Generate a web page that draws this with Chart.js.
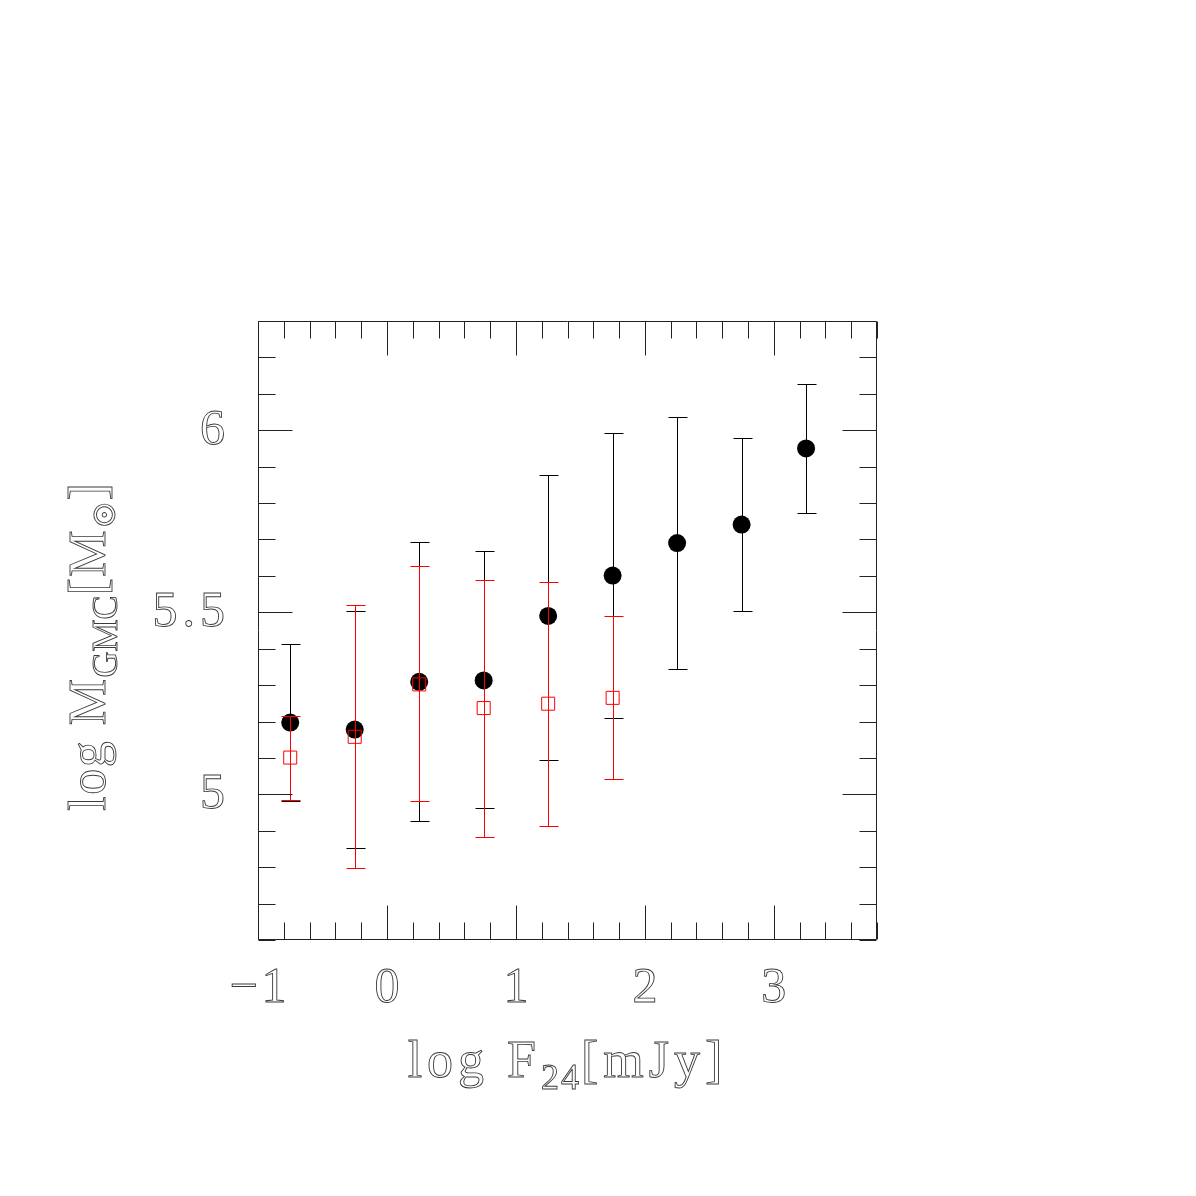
<!DOCTYPE html>
<html lang="en">
<head>
<meta charset="UTF-8">
<title>GMC mass vs 24 micron flux</title>
<script src="https://cdn.jsdelivr.net/npm/chart.js"></script>
<style>
    body { margin: 0; background: #fff; }
    #wrap { width: 1196px; height: 1196px; }
</style>
</head>
<body>
<div id="wrap"><canvas id="myChart" width="1196" height="1196"></canvas></div>
<script>
// bins in log F24 and mean log M_GMC with error ranges
const binCenters = [-0.75, -0.25, 0.25, 0.75, 1.25, 1.75, 2.25, 2.75, 3.25];
const allMass = [5.197, 5.178, 5.309, 5.313, 5.490, 5.601, 5.690, 5.741, 5.950];
const allLow  = [4.982, 4.854, 4.927, 4.962, 5.095, 5.210, 5.343, 5.503, 5.773];
const allHigh = [5.414, 5.503, 5.694, 5.667, 5.878, 5.992, 6.037, 5.978, 6.128];

const subCenters = [-0.75, -0.25, 0.25, 0.75, 1.25, 1.75];
const subMass = [5.101, 5.158, 5.302, 5.237, 5.249, 5.265];
const subLow  = [4.984, 4.798, 4.981, 4.882, 4.914, 5.041];
const subHigh = [5.216, 5.519, 5.626, 5.590, 5.582, 5.490];

const xTicks = [-1, 0, 1, 2, 3];
const xTickLabels = ['\u22121', '0', '1', '2', '3'];
const yTicks = [5, 5.5, 6];
const yTickLabels = ['5', '5.5', '6'];

const FONT = '"Liberation Serif", "DejaVu Serif", serif';
const TEXT_COLOR = '#3a3a3a';

function drawParts(ctx, parts, x, y) {
    let total = 0;
    parts.forEach(p => {
        ctx.font = p.size + 'px ' + FONT;
        ctx.letterSpacing = (p.ls || 0) + 'px';
        p.w = ctx.measureText(p.t).width;
        total += p.w;
    });
    let cx = x - total / 2;
    parts.forEach(p => {
        ctx.font = p.size + 'px ' + FONT;
        ctx.letterSpacing = (p.ls || 0) + 'px';
        ctx.strokeText(p.t, cx, y + (p.dy || 0));
        cx += p.w;
    });
    ctx.letterSpacing = '0px';
}

function drawErrorBars(chart, xv, lo, hi, color) {
    const ctx = chart.ctx;
    const xs = chart.scales.x, ys = chart.scales.y;
    ctx.save();
    ctx.strokeStyle = color;
    ctx.lineWidth = 1;
    ctx.beginPath();
    xv.forEach((v, i) => {
        const px = Math.round(xs.getPixelForValue(v)) + 0.5;
        const top = Math.round(ys.getPixelForValue(hi[i])) + 0.5;
        const bot = Math.round(ys.getPixelForValue(lo[i])) + 0.5;
        ctx.moveTo(px, top); ctx.lineTo(px, bot);
        ctx.moveTo(px - 9, top); ctx.lineTo(px + 10, top);
        ctx.moveTo(px - 9, bot); ctx.lineTo(px + 10, bot);
    });
    ctx.stroke();
    ctx.restore();
}

const errorBarPlugin = {
    id: 'errorBars',
    beforeDatasetsDraw(chart) {
        drawErrorBars(chart, binCenters, allLow, allHigh, '#000000');
    },
    afterDatasetsDraw(chart) {
        drawErrorBars(chart, subCenters, subLow, subHigh, '#ff0000');
    }
};

const framePlugin = {
    id: 'frame',
    afterDraw(chart) {
        const ctx = chart.ctx;
        const a = chart.chartArea;
        const xs = chart.scales.x, ys = chart.scales.y;
        const L = a.left + 0.5, R = a.right - 0.5, T = a.top + 0.5, B = a.bottom - 0.5;
        ctx.save();
        ctx.strokeStyle = '#222';
        ctx.lineWidth = 1;
        ctx.beginPath();
        ctx.rect(L, T, R - L, B - T);
        // x ticks, every 0.2, major every 1
        for (let i = 0; i <= 24; i++) {
            const v = -1 + i * 0.2;
            const px = Math.round(xs.getPixelForValue(v)) + 0.5;
            const len = (i % 5 === 0) ? 34 : 17;
            ctx.moveTo(px, B); ctx.lineTo(px, B - len);
            ctx.moveTo(px, T); ctx.lineTo(px, T + len);
        }
        // y ticks, every 0.1, major every 0.5
        for (let i = 0; i <= 17; i++) {
            const v = 4.6 + i * 0.1;
            const py = Math.round(ys.getPixelForValue(v)) + 0.5;
            const len = ((46 + i) % 5 === 0) ? 34 : 17;
            ctx.moveTo(L, py); ctx.lineTo(L + len, py);
            ctx.moveTo(R, py); ctx.lineTo(R - len, py);
        }
        ctx.stroke();

        // tick labels
        ctx.strokeStyle = TEXT_COLOR;
        ctx.lineWidth = 0.9;
        ctx.textBaseline = 'middle';
        ctx.textAlign = 'center';
        ctx.font = '50px ' + FONT;
        xTicks.forEach((v, i) => {
            ctx.letterSpacing = '4px';
            ctx.strokeText(xTickLabels[i], xs.getPixelForValue(v) + 2, 989);
        });
        ctx.textAlign = 'right';
        yTicks.forEach((v, i) => {
            ctx.letterSpacing = '5px';
            ctx.strokeText(yTickLabels[i], 230, ys.getPixelForValue(v) + 1);
        });

        // axis titles
        ctx.textAlign = 'left';
        ctx.textBaseline = 'alphabetic';
        drawParts(ctx, [
            { t: 'log F', size: 52, ls: 5 },
            { t: '24', size: 36, dy: 12, ls: 2 },
            { t: '[mJy]', size: 52, ls: 5 }
        ], (a.left + a.right) / 2, 1077);

        ctx.translate(105, 647);
        ctx.rotate(-Math.PI / 2);
        drawParts(ctx, [
            { t: 'log M', size: 52, ls: 1.5 },
            { t: 'GMC', size: 36, dy: 12, ls: 0 },
            { t: '[M', size: 52, ls: 1.5 },
            { t: '\u2299', size: 34, dy: 10, ls: 0 },
            { t: ']', size: 52, ls: 0 }
        ], 0, 0);
        ctx.restore();
    }
};

const ctx = document.getElementById('myChart').getContext('2d');
new Chart(ctx, {
    type: 'scatter',
    data: {
        datasets: [
            {
                label: 'subset',
                data: subCenters.map((x, i) => ({ x: x, y: subMass[i] })),
                pointStyle: 'rect',
                pointRadius: 9.2,
                backgroundColor: 'rgba(0,0,0,0)',
                borderColor: '#ff0000',
                borderWidth: 1,
                order: 1
            },
            {
                label: 'all',
                data: binCenters.map((x, i) => ({ x: x, y: allMass[i] })),
                pointStyle: 'circle',
                pointRadius: 9,
                backgroundColor: '#000',
                borderColor: '#000',
                borderWidth: 0,
                order: 2
            }
        ]
    },
    options: {
        responsive: false,
        animation: false,
        layout: { padding: { left: 258, right: 319, top: 321, bottom: 256 } },
        scales: {
            x: { type: 'linear', min: -1, max: 3.8, display: false },
            y: { type: 'linear', min: 4.6, max: 6.3, display: false }
        },
        plugins: { legend: { display: false }, tooltip: { enabled: false } },
        events: []
    },
    plugins: [errorBarPlugin, framePlugin]
});
</script>
</body>
</html>
